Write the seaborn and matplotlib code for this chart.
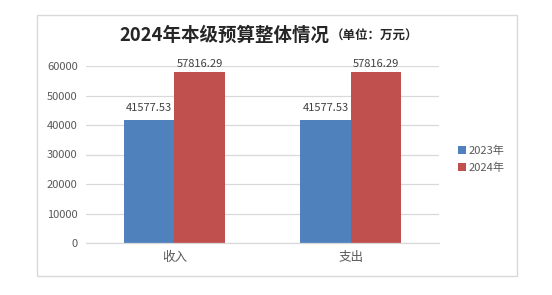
import matplotlib
matplotlib.use("Agg")
import matplotlib.pyplot as plt
import seaborn as sns
import pandas as pd
from matplotlib.patches import Rectangle

categories = ["收入", "支出"]
years = ["2023年", "2024年"]
values_2023 = [41577.53, 41577.53]
values_2024 = [57816.29, 57816.29]
yticks = [0, 10000, 20000, 30000, 40000, 50000, 60000]

df = pd.DataFrame({
    "cat": categories * 2,
    "year": [years[0]] * 2 + [years[1]] * 2,
    "val": values_2023 + values_2024,
})

sns.set_theme(style="white")
plt.rcParams["font.family"] = ["Noto Sans CJK SC", "DejaVu Sans"]

W, H = 552, 295
fig = plt.figure(figsize=(W / 100, H / 100), dpi=100)
fig.patch.set_facecolor("white")
ax = fig.add_axes([86 / W, 1 - 243 / H, (439 - 86) / W, (243 - 66) / H])

colors = ["#4F81BD", "#C0504D"]
sns.barplot(data=df, x="cat", y="val", hue="year", order=categories,
            hue_order=years, palette=colors, width=0.575, ax=ax,
            saturation=1, legend=True, edgecolor="none", linewidth=0)

ax.set_xlim(-0.5, 1.5)
ax.set_ylim(0, 60000)
ax.set_yticks(yticks)
ax.set_yticklabels([str(v) for v in yticks], color="#595959", fontsize=8)
ax.tick_params(axis="x", colors="#595959", labelsize=9, length=0, pad=6)
ax.tick_params(axis="y", length=0, pad=6)
ax.set_xlabel("")
ax.set_ylabel("")
ax.yaxis.grid(True, color="#d9d9d9", linewidth=0.9)
ax.set_axisbelow(True)
for s in ["top", "right", "left"]:
    ax.spines[s].set_visible(False)
ax.spines["bottom"].set_color("#d9d9d9")
ax.spines["bottom"].set_linewidth(0.9)

for cont, pad in zip(ax.containers, [5.5, 2.5]):
    ax.bar_label(cont, labels=[f"{v:.2f}" for v in cont.datavalues],
                 fontsize=8, color="#404040", padding=pad)

leg = ax.legend(loc="center left", bbox_to_anchor=(1.025, 0.475), frameon=False,
                fontsize=8, handlelength=0.7, handleheight=0.7,
                handletextpad=0.3, labelspacing=0.6)
for t in leg.get_texts():
    t.set_color("#595959")

fig.text(329 / W, 1 - 35 / H, "2024年本级预算整体情况", fontsize=13.3, fontweight="bold",
         color="#262626", ha="right", va="center")
fig.text(331 / W, 1 - 36 / H, "（单位：万元）", fontsize=9, fontweight="bold",
         color="#262626", ha="left", va="center")

fig.add_artist(Rectangle((37 / W, 1 - 276 / H), (517 - 37) / W, (276 - 15) / H,
                         transform=fig.transFigure, fill=False,
                         edgecolor="#d9d9d9", linewidth=1))

fig.savefig("out.png", dpi=100)
